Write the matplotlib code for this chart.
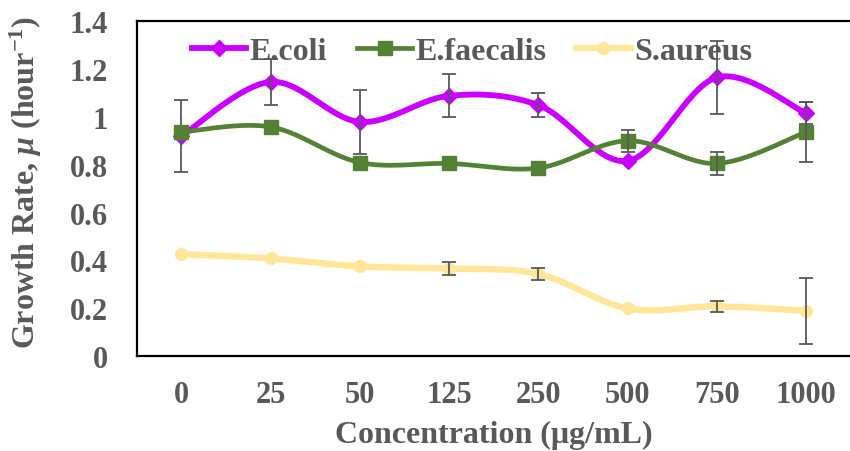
import numpy as np
import matplotlib.pyplot as plt

plt.rcParams['font.family'] = 'Liberation Serif'
plt.rcParams['font.weight'] = 'bold'
plt.rcParams['axes.labelweight'] = 'bold'
plt.rcParams['mathtext.fontset'] = 'custom'
plt.rcParams['mathtext.rm'] = 'Liberation Serif:bold'
plt.rcParams['mathtext.it'] = 'Liberation Serif:bold:italic'

conc = ['0', '25', '50', '125', '250', '500', '750', '1000']

ecoli = [0.92, 1.146, 0.979, 1.088, 1.049, 0.816, 1.165, 1.015]
ecoli_err = [0.15, 0.096, 0.134, 0.09, 0.05, 0.0, 0.153, 0.045]

efaecalis = [0.937, 0.958, 0.809, 0.805, 0.786, 0.900, 0.805, 0.937]
efaecalis_err = [0.0, 0.0, 0.0, 0.0, 0.0, 0.046, 0.05, 0.125]

saureus = [0.426, 0.408, 0.375, 0.366, 0.343, 0.199, 0.208, 0.189]
saureus_err = [0.0, 0.0, 0.0, 0.028, 0.025, 0.0, 0.022, 0.137]

gray = '#595959'


def smooth(y, n=30):
    # Excel-style smoothed line: cubic Bezier segments with 1/6 tangents
    x = np.arange(len(y), dtype=float)
    y = np.asarray(y, dtype=float)
    px = np.concatenate([[x[0]], x, [x[-1]]])
    py = np.concatenate([[y[0]], y, [y[-1]]])
    t = np.linspace(0, 1, n)[:, None]
    xs, ys = [], []
    for i in range(len(y) - 1):
        p0 = np.array([x[i], y[i]])
        p3 = np.array([x[i + 1], y[i + 1]])
        p1 = p0 + (np.array([px[i + 2], py[i + 2]]) - np.array([px[i], py[i]])) / 6
        p2 = p3 - (np.array([px[i + 3], py[i + 3]]) - np.array([px[i + 1], py[i + 1]])) / 6
        b = (1 - t) ** 3 * p0 + 3 * (1 - t) ** 2 * t * p1 + 3 * (1 - t) * t ** 2 * p2 + t ** 3 * p3
        xs.append(b[:, 0])
        ys.append(b[:, 1])
    return np.concatenate(xs), np.concatenate(ys)


fig = plt.figure(figsize=(8.5, 4.52), dpi=100)
ax = fig.add_axes([0.161, 0.210, 0.840, 0.741])

series = [
    ('E.coli', ecoli, ecoli_err, '#CC00FF', 'D', 8, 4.2),
    ('E.faecalis', efaecalis, efaecalis_err, '#548235', 's', 10, 3.4),
    ('S.aureus', saureus, saureus_err, '#FFE699', 'o', 8.5, 4.6),
]

x = np.arange(len(conc))
handles = []
for k, (name, vals, err, col, mk, ms, lw) in enumerate(series):
    sx, sy = smooth(vals)
    ax.plot(sx, sy, color=col, lw=lw, zorder=2 + k * 2, solid_capstyle='round')
    ax.plot(x, vals, ls='none', marker=mk, ms=ms, color=col, zorder=2 + k * 2)
    e = np.array(err)
    mask = e > 0
    ax.errorbar(x[mask], np.array(vals)[mask], yerr=e[mask], fmt='none',
                ecolor=gray, elinewidth=1.3, capsize=5, capthick=1.3, zorder=3 + k * 2)
    h, = ax.plot([], [], color=col, lw=lw, marker=mk, ms=ms)
    handles.append(h)

ax.set_xlim(-0.5, 7.5)
ax.set_ylim(0, 1.4)
ax.set_xticks(x)
ax.set_xticklabels(conc)
ax.set_yticks(np.arange(0, 1.41, 0.2))
ax.set_yticklabels(['0', '0.2', '0.4', '0.6', '0.8', '1', '1.2', '1.4'])
ax.tick_params(length=0, labelsize=22, labelcolor=gray)
ax.tick_params(axis='y', pad=21)
ax.tick_params(axis='x', pad=17)

for s in ['left', 'top', 'bottom']:
    ax.spines[s].set_linewidth(1.6)
    ax.spines[s].set_color('black')
ax.spines['right'].set_visible(False)

ax.set_xlabel('Concentration (μg/mL)', fontsize=23, color=gray, labelpad=8)
ax.set_ylabel(r'Growth Rate, $\mu$ (hour$^{-1}$)', fontsize=23, color=gray)
ax.yaxis.set_label_coords(-0.13, 0.52)

leg = ax.legend(handles, [s[0] for s in series], loc='upper left', ncol=3,
                bbox_to_anchor=(0.055, 1.0), frameon=False, fontsize=23,
                handlelength=1.7, handletextpad=0.1, columnspacing=0.95,
                borderaxespad=0.1)
for t in leg.get_texts():
    t.set_color(gray)

fig.savefig('out.png', dpi=100)
